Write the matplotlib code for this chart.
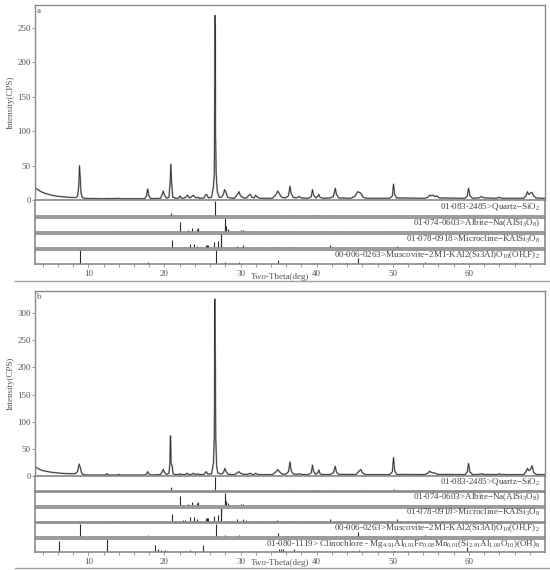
import matplotlib
matplotlib.use("Agg")
import matplotlib.pyplot as plt
from matplotlib.lines import Line2D

plt.rcParams['font.family'] = ['Liberation Serif', 'DejaVu Serif']
plt.rcParams['mathtext.fontset'] = 'custom'
plt.rcParams['mathtext.rm'] = 'Liberation Serif'
plt.rcParams['mathtext.it'] = 'Liberation Serif:italic'
plt.rcParams['mathtext.bf'] = 'Liberation Serif:bold'

# ---------------- data ----------------
# panel a measured pattern (2theta, CPS)
tt_a = [3.0, 3.1, 3.5, 4.0, 4.5, 5.0, 5.5, 6.0, 6.5, 7.0, 7.5, 8.0, 8.4, 8.6, 8.75, 8.85, 8.95, 9.05, 9.2, 9.5,
        10.0, 12.0, 12.5, 13.0, 13.9, 14.2, 17.4, 17.65, 17.8, 17.95, 18.2, 19.5, 19.7, 19.85, 20.0, 20.3,
        20.6, 20.75, 20.85, 20.95, 21.1, 21.5, 21.9, 22.05, 22.2, 22.5, 22.8, 23.05, 23.3, 23.6, 23.8, 24.0,
        24.2, 24.4, 24.6, 25.2, 25.45, 25.6, 25.8, 26.2, 26.45, 26.55, 26.6, 26.64, 26.68, 26.72, 26.8, 26.95,
        27.2, 27.5, 27.75, 27.9, 28.05, 28.3, 28.6, 29.2, 29.6, 29.8, 30.0, 30.4, 30.8, 31.1, 31.3, 31.5, 31.8,
        32.0, 32.2, 32.6, 34.2, 34.6, 34.9, 35.1, 35.4, 35.9, 36.3, 36.5, 36.65, 36.9, 37.3, 37.7, 38.0, 38.9,
        39.3, 39.45, 39.6, 39.9, 40.15, 40.3, 40.45, 40.8, 41.8, 42.2, 42.45, 42.6, 42.9, 44.5, 45.0, 45.4,
        45.8, 46.1, 46.5, 49.6, 49.95, 50.1, 50.25, 50.5, 54.2, 54.6, 54.85, 55.0, 55.3, 55.5, 55.8, 56.1,
        59.5, 59.8, 59.95, 60.15, 60.5, 61.3, 61.65, 62.0, 63.7, 64.0, 64.3, 67.2, 67.5, 67.7, 67.85, 68.1,
        68.3, 68.5, 68.8, 69.5, 70.0]
cps_a = [20, 17, 14, 11, 9, 7.5, 6.3, 5.4, 4.8, 4.3, 3.9, 3.6, 3.8, 6, 20, 50, 30, 10, 4, 2.5,
         2.2, 1.8, 2.2, 1.8, 2.5, 1.8, 1.8, 6, 16, 6, 2, 2.5, 8, 13, 7, 2.5,
         4, 25, 52, 25, 4, 2.5, 3, 6, 3, 2.5, 4, 7, 3, 5, 7, 4,
         3, 4, 2.5, 3, 8, 7, 3, 4, 20, 38, 125, 268, 250, 100, 38, 12,
         4, 4, 8, 15, 12, 4, 3, 2.5, 8, 12, 6, 3, 3, 7, 8, 4, 3,
         7, 4, 2.5, 2.5, 7, 13, 9, 4, 3, 6, 20, 10, 4, 3, 5, 3, 2.5,
         5, 15, 7, 3, 5, 8, 4, 2.5, 3, 5, 17, 8, 3, 2.5, 5, 12,
         10, 4, 2.5, 2.5, 6, 23, 8, 3, 2.5, 4, 7, 6, 7, 5, 6, 3,
         2.5, 6, 17, 6, 2.5, 3, 5, 3, 2.5, 4, 2.5, 2.5, 6, 12, 8, 10,
         11, 6, 3, 2.5, 2.5]

# panel b measured pattern
tt_b = [3.0, 3.1, 3.5, 4.0, 4.5, 5.0, 5.5, 6.0, 6.5, 7.0, 7.5, 8.0, 8.4, 8.6, 8.8, 8.95, 9.1, 9.3, 9.6,
        10.0, 12.2, 12.45, 12.7, 13.8, 14.0, 14.2, 17.5, 17.7, 17.8, 17.95, 18.2, 19.5, 19.7, 19.85, 20.0,
        20.3, 20.6, 20.72, 20.8, 20.88, 21.0, 21.15, 21.5, 21.9, 22.05, 22.2, 22.8, 23.0, 23.2, 23.6, 23.8,
        24.0, 24.2, 24.35, 24.6, 25.2, 25.5, 25.7, 26.2, 26.45, 26.55, 26.6, 26.63, 26.66, 26.7, 26.75, 26.85,
        27.0, 27.3, 27.6, 27.8, 27.95, 28.1, 28.4, 29.2, 29.6, 29.8, 30.0, 30.4, 30.8, 31.1, 31.3, 31.5,
        31.8, 32.0, 32.2, 32.6, 34.2, 34.6, 34.9, 35.1, 35.4, 35.9, 36.3, 36.5, 36.65, 36.9, 37.3, 37.7,
        38.0, 38.9, 39.3, 39.45, 39.6, 39.9, 40.15, 40.3, 40.45, 40.8, 41.8, 42.2, 42.45, 42.6, 42.9, 45.2,
        45.5, 45.8, 46.0, 46.4, 49.6, 49.95, 50.1, 50.25, 50.5, 54.2, 54.6, 54.85, 55.0, 55.3, 55.6, 55.9,
        59.5, 59.8, 59.95, 60.15, 60.5, 61.3, 61.65, 62.0, 63.7, 64.0, 64.3, 67.2, 67.5, 67.7, 67.85, 68.1,
        68.3, 68.5, 68.8, 69.5, 70.0]
cps_b = [20, 16, 13, 10, 8.5, 7.2, 6.3, 5.6, 5, 4.5, 4.2, 4, 5, 9, 22, 16, 6, 3, 2,
         1.8, 1.8, 4, 1.8, 1.8, 3, 1.8, 1.8, 5, 8, 4, 2, 2.5, 8, 12, 7,
         2.5, 5, 22, 74, 22, 20, 4, 2.5, 3, 4, 2.5, 3, 5, 2.5, 3, 5,
         3, 3, 4, 2.5, 3, 8, 3.5, 4, 25, 70, 200, 326, 250, 200, 70, 20,
         6, 4, 4, 8, 14, 8, 3, 2.5, 6, 8, 5, 3, 3, 4, 5, 3,
         3, 5, 3, 2.5, 2.5, 7, 12, 8, 4, 3, 8, 26, 10, 4, 3, 4,
         3, 2.5, 6, 20, 8, 3, 6, 11, 4, 2.5, 3, 6, 18, 7, 3, 3,
         8, 12, 6, 2.5, 2.5, 8, 34, 10, 3, 2.5, 5, 9, 7, 6, 5, 3,
         2.5, 8, 23, 7, 2.5, 3, 4, 3, 2.5, 4, 2.5, 2.5, 8, 14, 10, 12,
         19, 7, 3, 2.5, 2.5]

# reference stick patterns (2theta, relative intensity %)
quartz_pos = [20.86, 26.64, 36.54, 39.47, 40.29, 42.45, 45.79, 50.14, 54.87, 59.96, 64.04, 67.74, 68.14]
quartz_int = [22, 100, 5, 6, 4, 5, 3, 8, 4, 6, 3, 4, 5]

albite_pos = [13.9, 15.0, 15.9, 22.05, 23.1, 23.6, 24.25, 24.4, 25.5, 26.5, 27.9, 28.0, 28.15, 28.3, 28.6,
              30.1, 30.3, 31.3, 33.5, 35.0, 35.6, 36.2, 37.2, 38.0, 39.0, 40.5, 41.6, 42.5, 44.0, 45.0,
              46.0, 47.2, 48.5, 49.8, 50.5, 51.2, 52.0, 53.5, 55.0, 56.5, 58.0, 59.5, 61.0, 62.5, 64.5,
              66.0, 68.0]
albite_int = [8, 3, 3, 75, 15, 30, 22, 28, 8, 10, 100, 65, 40, 25, 10,
              15, 12, 5, 3, 5, 4, 3, 4, 3, 3, 4, 3, 4, 3, 4,
              3, 3, 3, 4, 6, 4, 3, 3, 3, 3, 3, 3, 3, 3, 3,
              3, 3]

micro_pos = [12.9, 13.4, 13.8, 15.0, 21.05, 22.4, 22.75, 23.3, 23.95, 24.3, 24.7, 25.5, 25.6, 25.7, 26.5,
             27.0, 27.4, 27.45, 29.5, 30.3, 30.7, 32.2, 34.1, 34.8, 35.2, 36.3, 37.0, 38.5, 40.0, 41.8,
             43.0, 44.5, 45.7, 47.0, 48.5, 50.6, 52.0, 55.0, 58.0, 61.0, 64.0, 67.0]
micro_int = [3, 3, 3, 3, 57, 10, 10, 30, 30, 15, 5, 25, 25, 25, 40,
             50, 100, 100, 15, 20, 10, 5, 5, 8, 5, 6, 5, 3, 3, 20,
             3, 3, 5, 3, 3, 15, 3, 3, 3, 3, 3, 3]

musc_pos = [8.85, 17.8, 19.85, 22.9, 23.9, 25.5, 26.8, 27.9, 29.8, 31.2, 32.1, 34.9, 35.9, 36.6, 37.7,
            39.5, 40.2, 42.5, 43.9, 45.4, 47.0, 50.5, 51.8, 54.3, 54.7, 56.8, 59.2, 61.6, 63.2, 64.4,
            66.2, 67.5]
musc_int = [100, 15, 10, 6, 6, 10, 100, 15, 15, 10, 8, 30, 8, 6, 10,
            6, 6, 10, 5, 40, 5, 8, 5, 15, 10, 5, 8, 6, 5, 5,
            5, 5]

clino_pos = [6.2, 12.45, 18.8, 19.2, 19.6, 20.1, 20.4, 21.6, 22.7, 23.4, 25.1, 31.3, 34.4, 35.0, 35.3,
             35.6, 37.0, 37.4, 38.2, 40.0, 40.3, 45.1, 45.5, 48.8, 50.2, 51.5, 59.7, 60.2, 62.2, 64.5,
             65.2, 66.5]
clino_int = [85, 100, 56, 20, 15, 12, 10, 10, 8, 12, 55, 5, 8, 25, 25,
             20, 20, 10, 10, 8, 6, 8, 15, 5, 8, 5, 35, 10, 5, 5,
             5, 5]

xticks_major = [10, 20, 30, 40, 50, 60]
yticks_a = [0, 50, 100, 150, 200, 250]
yticks_b = [0, 50, 100, 150, 200, 250, 300]

labels_a = [r"01-083-2485>Quartz$-$SiO$_{2}$",
            r"01-074-0603>Albite$-$Na(AlSi$_{3}$O$_{8}$)",
            r"01-078-0918>Microcline$-$KAlSi$_{3}$O$_{8}$",
            r"00-006-0263>Muscovite$-$2M1-KAl2(Si3Al)O$_{10}$(OH,F)$_{2}$"]
label_clino = (r"01-080-1119> Clinochlore - Mg$_{4.91}$Al$_{0.91}$Fe$_{0.08}$Mn$_{0.01}$"
               r"(Si$_{2.91}$Al$_{1.09}$O$_{10}$)(OH)$_{8}$")

# ---------------- drawing ----------------
W, H = 550, 570
fig = plt.figure(figsize=(W / 100, H / 100), dpi=100)
XL = (3, 70)
GRAY = '#8a8a8a'
TXT = '#555555'


def px_axes(x0, y0, x1, y1):
    return fig.add_axes([x0 / W, 1 - y1 / H, (x1 - x0) / W, (y1 - y0) / H])


def style_box(ax, lw=1.0):
    for s in ax.spines.values():
        s.set_color(GRAY)
        s.set_linewidth(lw)


def main_panel(y0, y1, tt, cps, ymax, yticks, letter):
    ax = px_axes(35, y0, 545, y1)
    ax.plot(tt, cps, color='#b0b0b0', lw=1.3, solid_joinstyle='round')
    ax.plot(tt, cps, color='#2a2a2a', lw=0.55)
    ax.set_xlim(*XL)
    ax.set_ylim(0, ymax)
    ax.set_xticks([])
    ax.set_yticks(yticks)
    ax.tick_params(axis='y', direction='out', length=2, width=0.6, colors=GRAY,
                   labelcolor=TXT, labelsize=6.5, pad=1)
    style_box(ax)
    ax.text(0.004, 0.99, letter, transform=ax.transAxes, ha='left', va='top',
            fontsize=6.5, color=TXT)
    ax.set_ylabel('Intensity(CPS)', fontsize=6.5, color=TXT, labelpad=2)
    return ax


def stick_panel(y0, y1, pos, inten, label, bottom=False):
    ax = px_axes(35, y0, 545, y1)
    ax.vlines(pos, 0, inten, color='#2a2a2a', lw=0.8)
    ax.set_xlim(*XL)
    ax.set_ylim(0, 104)
    ax.set_yticks([])
    style_box(ax, 1.2)
    ax.text(0.99, 0.62, label, transform=ax.transAxes, ha='right', va='center',
            fontsize=6.5, color='#444444')
    if bottom:
        ax.set_xticks(xticks_major)
        ax.set_xticks(list(range(4, 70, 2)), minor=True)
        ax.tick_params(axis='x', which='both', direction='out', length=2, width=0.6,
                       colors=GRAY, labelcolor=TXT, labelsize=6.5, pad=2)
        ax.tick_params(axis='x', which='minor', labelbottom=False)
    else:
        ax.set_xticks([])
    return ax


# panel a
main_panel(5, 200, tt_a, cps_a, 283, yticks_a, 'a')
rows_a = [(200, 216), (217.5, 232), (233.5, 248), (249.5, 264)]
data_a = [(quartz_pos, quartz_int), (albite_pos, albite_int),
          (micro_pos, micro_int), (musc_pos, musc_int)]
for i, ((r0, r1), (p, v), lab) in enumerate(zip(rows_a, data_a, labels_a)):
    stick_panel(r0, r1, p, v, lab, bottom=(i == len(rows_a) - 1))
fig.text(280 / W, 1 - 277 / H, 'Two-Theta(deg)', ha='center', va='center',
         fontsize=6.5, color=TXT)

fig.add_artist(Line2D([15 / W, 1.0], [1 - 281 / H, 1 - 281 / H], color='#a0a0a0', lw=1.0))

# panel b
main_panel(291, 476, tt_b, cps_b, 341, yticks_b, 'b')
rows_b = [(476, 490.5), (492, 506), (507.5, 521.5), (523, 537), (538.5, 552)]
data_b = data_a + [(clino_pos, clino_int)]
labels_b = labels_a + [label_clino]
for i, ((r0, r1), (p, v), lab) in enumerate(zip(rows_b, data_b, labels_b)):
    stick_panel(r0, r1, p, v, lab, bottom=(i == len(rows_b) - 1))
fig.text(280 / W, 1 - 563 / H, 'Two-Theta(deg)', ha='center', va='center',
         fontsize=6.5, color=TXT)
fig.add_artist(Line2D([15 / W, 1.0], [1 - 568 / H, 1 - 568 / H], color='#a0a0a0', lw=1.0))

fig.savefig('out.png', dpi=100, facecolor='white')
